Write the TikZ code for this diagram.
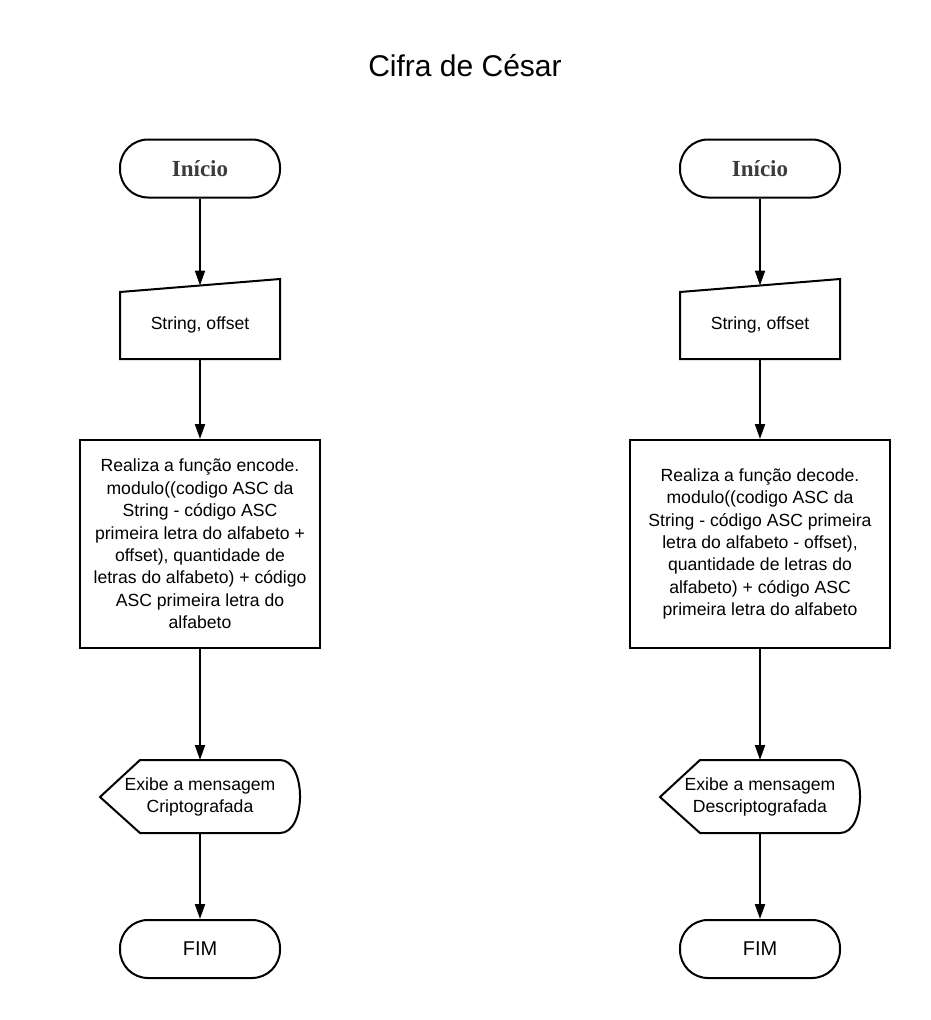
\documentclass[tikz,border=0pt]{standalone}
\usepackage{fontspec}
\setmainfont{Liberation Sans}
\newfontfamily\slabfont{Liberation Serif}
\usetikzlibrary{arrows.meta}
\definecolor{startgray}{HTML}{3C3C3C}
\begin{document}
\begin{tikzpicture}[x=1pt,y=-1pt,
  term/.style={draw, line width=2pt, rounded corners=28pt, minimum width=160pt, minimum height=58pt, inner sep=0pt},
  startlbl/.style={font=\fontsize{23}{26}\selectfont\slabfont\bfseries, text=startgray},
  bodyfont/.style={font=\fontsize{17.6}{22.4}\selectfont},
  proc/.style={draw, line width=2pt, minimum height=208pt, inner sep=0pt, align=center, bodyfont},
  shapeline/.style={draw, line width=2pt, line join=miter},
  lbl/.style={align=center, inner sep=0pt, bodyfont},
  arr/.style={line width=2pt, -{Triangle[width=10pt,length=15pt]}}
]
\useasboundingbox (0,0) rectangle (930,1020);

\node[anchor=base, font=\fontsize{30}{34}\selectfont] (title) at (465,76) {Cifra de César};

% ---------- left column ----------
\node[term, startlbl] (s1) at (200,168.5) {Início};
\draw[shapeline] (120,292) -- (280,279) -- (280,359) -- (120,359) -- cycle;
\coordinate (i1top) at (200,285.5);
\coordinate (i1bot) at (200,359);
\node[lbl] (i1) at (200,325) {String, offset};
\node[proc, minimum width=240pt] (p1) at (200,544) {Realiza a função encode.\\modulo((codigo ASC da\\String - código ASC\\primeira letra do alfabeto +\\offset), quantidade de\\letras do alfabeto) + código\\ASC primeira letra do\\alfabeto};
\draw[shapeline] (100,797) -- (140,760) -- (280,760) .. controls (306.7,760) and (306.7,833) .. (280,833) -- (140,833) -- cycle;
\coordinate (d1top) at (200,760);
\coordinate (d1bot) at (200,833);
\node[lbl] (d1) at (200,797) {Exibe a mensagem\\Criptografada};
\node[term, font=\fontsize{20}{24}\selectfont] (f1) at (200,949) {FIM};

\draw[arr] (s1.south) -- (i1top);
\draw[arr] (i1bot) -- (p1.north);
\draw[arr] (p1.south) -- (d1top);
\draw[arr] (d1bot) -- (f1.north);

% ---------- right column ----------
\node[term, startlbl] (s2) at (760,168.5) {Início};
\draw[shapeline] (680,292) -- (840,279) -- (840,359) -- (680,359) -- cycle;
\coordinate (i2top) at (760,285.5);
\coordinate (i2bot) at (760,359);
\node[lbl] (i2) at (760,325) {String, offset};
\node[proc, minimum width=260pt] (p2) at (760,544) {Realiza a função decode.\\modulo((codigo ASC da\\String - código ASC primeira\\letra do alfabeto - offset),\\quantidade de letras do\\alfabeto) + código ASC\\primeira letra do alfabeto};
\draw[shapeline] (660,797) -- (700,760) -- (840,760) .. controls (866.7,760) and (866.7,833) .. (840,833) -- (700,833) -- cycle;
\coordinate (d2top) at (760,760);
\coordinate (d2bot) at (760,833);
\node[lbl] (d2) at (760,797) {Exibe a mensagem\\Descriptografada};
\node[term, font=\fontsize{20}{24}\selectfont] (f2) at (760,949) {FIM};

\draw[arr] (s2.south) -- (i2top);
\draw[arr] (i2bot) -- (p2.north);
\draw[arr] (p2.south) -- (d2top);
\draw[arr] (d2bot) -- (f2.north);
\end{tikzpicture}
\end{document}
